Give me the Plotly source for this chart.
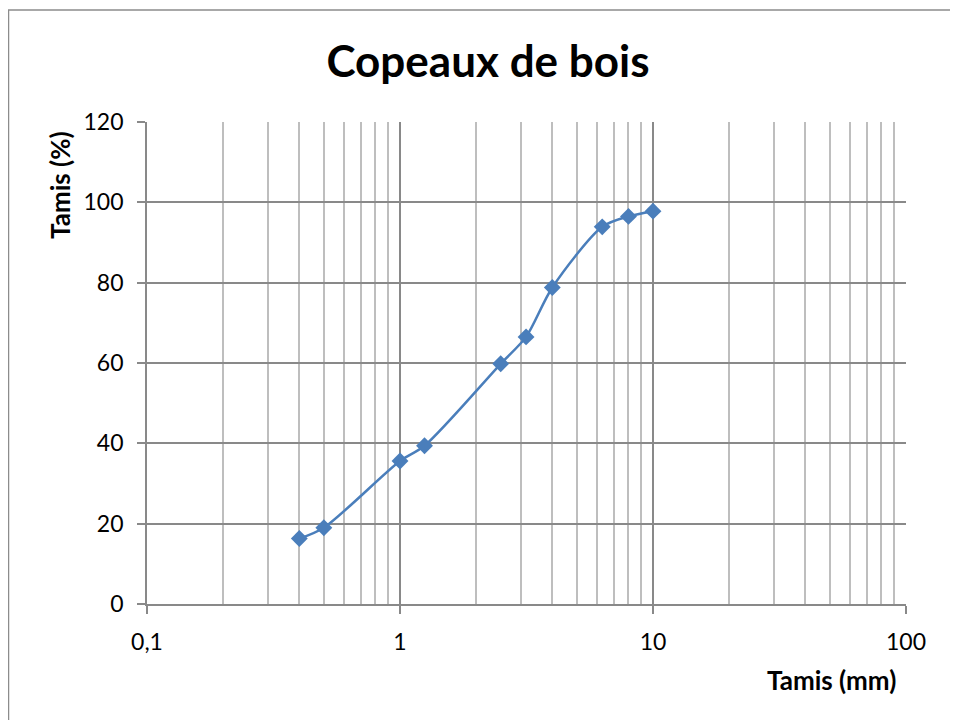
import plotly.graph_objects as go

sieve_mm = [0.4, 0.5, 1.0, 1.25, 2.5, 3.15, 4.0, 6.3, 8.0, 10.0]
passing_pct = [16.3, 19.0, 35.6, 39.4, 59.8, 66.5, 78.8, 93.9, 96.5, 97.8]

title_text = "Copeaux de bois"
x_title = "Tamis (mm)"
y_title = "Tamis (%)"

# page has an 8px body margin: figure drawn from screen (8,8)
OFF = 8
W, H = 958 - OFF, 720 - OFF
# plot area in screen pixels
L, R, T, B = 147, 906, 122, 604
pw, ph = R - L, B - T

def px_to_paper_x(px):
    return (px - L) / pw

def px_to_paper_y(py):
    return (B - py) / ph

font_family = "Lato, 'Open Sans', sans-serif"
blue = "#4a7ebb"
major_grid = "#898989"
minor_grid = "#bebebe"

fig = go.Figure()
fig.add_trace(go.Scatter(
    x=sieve_mm, y=passing_pct,
    mode="lines+markers",
    line=dict(color=blue, width=2.5, shape="spline", smoothing=0.8),
    marker=dict(symbol="diamond", size=13, color=blue),
    showlegend=False,
))

fig.update_layout(
    width=W, height=H,
    margin=dict(l=L - OFF, r=958 - R, t=T - OFF, b=720 - B, pad=0),
    paper_bgcolor="white", plot_bgcolor="white",
    separators=", ",
    font=dict(family=font_family, size=23, color="black"),
    title=dict(text=f"<b>{title_text}</b>", x=px_to_paper_x(488), xref="paper",
               xanchor="center", y=1 - (62 - OFF) / H, yanchor="middle",
               font=dict(size=44, family=font_family, color="black")),
    xaxis=dict(
        type="log", range=[-1, 2], dtick=1,
        showgrid=True, gridcolor=major_grid, gridwidth=1.8,
        ticks="outside", ticklen=8, tickcolor=major_grid, tickwidth=1.8,
        showline=True, linecolor=major_grid, linewidth=1.8,
        minor=dict(dtick="D1", showgrid=True, gridcolor=minor_grid, gridwidth=1.8, ticks=""),
        zeroline=False, tickfont=dict(size=23), ticklabelstandoff=8,
    ),
    yaxis=dict(
        range=[0, 120], dtick=20,
        showgrid=True, gridcolor=major_grid, gridwidth=1.8,
        ticks="outside", ticklen=8, tickcolor=major_grid, tickwidth=1.8,
        showline=True, linecolor=major_grid, linewidth=1.8,
        zeroline=False, tickfont=dict(size=23), ticklabelstandoff=9,
    ),
    annotations=[
        dict(text=f"<b>{y_title}</b>", textangle=-90, xref="paper", yref="paper",
             x=px_to_paper_x(60), y=px_to_paper_y(185), xanchor="center", yanchor="middle",
             showarrow=False, font=dict(size=26, family=font_family, color="black")),
        dict(text=f"<b>{x_title}</b>", xref="paper", yref="paper",
             x=px_to_paper_x(831), y=px_to_paper_y(680), xanchor="center", yanchor="middle",
             showarrow=False, font=dict(size=26, family=font_family, color="black")),
    ],
    shapes=[
        dict(type="rect", xref="paper", yref="paper",
             x0=px_to_paper_x(8.5), x1=px_to_paper_x(990),
             y0=px_to_paper_y(760), y1=px_to_paper_y(10),
             line=dict(color="#8c8c8c", width=1.5), fillcolor="rgba(0,0,0,0)", layer="below"),
    ],
)

fig.write_html("out.html")
